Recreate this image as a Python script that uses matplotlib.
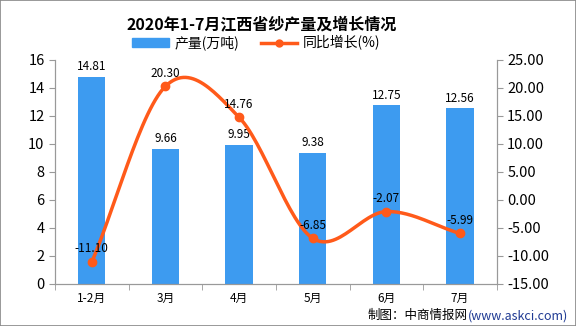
import numpy as np
import matplotlib.pyplot as plt
from matplotlib.patches import Rectangle

plt.rcParams['font.family'] = ['Noto Sans CJK SC', 'DejaVu Sans']

months = ['1-2月', '3月', '4月', '5月', '6月', '7月']
output = [14.81, 9.66, 9.95, 9.38, 12.75, 12.56]
growth = [-11.10, 20.30, 14.76, -6.85, -2.07, -5.99]

bar_color = '#3D9BF0'
line_color = '#FF5A1A'
axis_color = '#999999'


# сглаживание линии (Catmull-Rom), только для отрисовки
def smooth(x, y, n=30):
    x = np.asarray(x, float)
    y = np.asarray(y, float)
    px = np.concatenate([[2 * x[0] - x[1]], x, [2 * x[-1] - x[-2]]])
    py = np.concatenate([[2 * y[0] - y[1]], y, [2 * y[-1] - y[-2]]])
    xs, ys = [], []
    for i in range(1, len(px) - 2):
        t = np.linspace(0, 1, n)
        for p, out in ((px, xs), (py, ys)):
            p0, p1, p2, p3 = p[i - 1], p[i], p[i + 1], p[i + 2]
            out.extend(0.5 * (2 * p1 + (-p0 + p2) * t
                              + (2 * p0 - 5 * p1 + 4 * p2 - p3) * t ** 2
                              + (-p0 + 3 * p1 - 3 * p2 + p3) * t ** 3))
    return np.array(xs), np.array(ys)


fig = plt.figure(figsize=(5.76, 3.26), dpi=100)
fig.patches.append(Rectangle((0, 0), 1, 1, transform=fig.transFigure,
                             fill=False, edgecolor='#888888', lw=1.2))
ax1 = fig.add_axes([0.0955, 0.129, 0.767, 0.687])
ax2 = ax1.twinx()

x = np.arange(len(months))
ax1.bar(x, output, width=0.37, color=bar_color, zorder=1)
for xi, v in zip(x, output):
    ax1.text(xi, v + 0.25, f'{v:.2f}', ha='center', va='bottom', fontsize=8.5)

ax1.set_xlim(-0.5, len(months) - 0.5)
ax1.set_ylim(0, 16)
ax1.set_yticks(np.arange(0, 17, 2))
ax1.set_xticks(x)
ax1.set_xticklabels(months, fontsize=8.5)
ax1.set_xticks(np.arange(-0.5, len(months)), minor=True)
ax1.tick_params(axis='x', which='major', length=0, pad=6)
ax1.tick_params(axis='x', which='minor', length=4, color=axis_color)
ax1.tick_params(axis='y', labelsize=10.5, length=4, color=axis_color)

sx, sy = smooth(x, growth)
ax2.plot(sx, sy, color=line_color, lw=2.5, zorder=3)
ax2.plot(x, growth, 'o', color=line_color, ms=6, zorder=4)
for xi, v in zip(x, growth):
    ax2.text(xi, v + 1.2, f'{v:.2f}', ha='center', va='bottom', fontsize=8.5)
ax2.set_ylim(-15, 25)
ax2.set_yticks(np.arange(-15, 26, 5))
ax2.set_yticklabels([f'{v:.2f}' for v in np.arange(-15, 26, 5)])
ax2.tick_params(axis='y', labelsize=10.5, length=4, color=axis_color)

for a in (ax1, ax2):
    a.spines['top'].set_visible(False)
    for s in ('left', 'right', 'bottom'):
        a.spines[s].set_color(axis_color)

fig.text(0.455, 0.925, '2020年1-7月江西省纱产量及增长情况', ha='center', va='center',
         fontsize=11.5, fontweight='bold')

# легенда
h1 = plt.Rectangle((0, 0), 1, 1, color=bar_color)
h2, = ax2.plot([], [], color=line_color, lw=2.5, marker='o', ms=5)
fig.legend([h1, h2], ['产量(万吨)', '同比增长(%)'], loc='center',
           bbox_to_anchor=(0.445, 0.868), ncol=2, frameon=False, fontsize=10,
           handlelength=2.6, handleheight=0.6, columnspacing=1.6, handletextpad=0.4)

fig.text(0.8125, 0.031, '制图：中商情报网', ha='right', va='center', fontsize=9)
fig.text(0.8125, 0.031, '(www.askci.com)', ha='left', va='center', fontsize=9,
         color='#1F3A93')

plt.savefig('out.png', dpi=100)
